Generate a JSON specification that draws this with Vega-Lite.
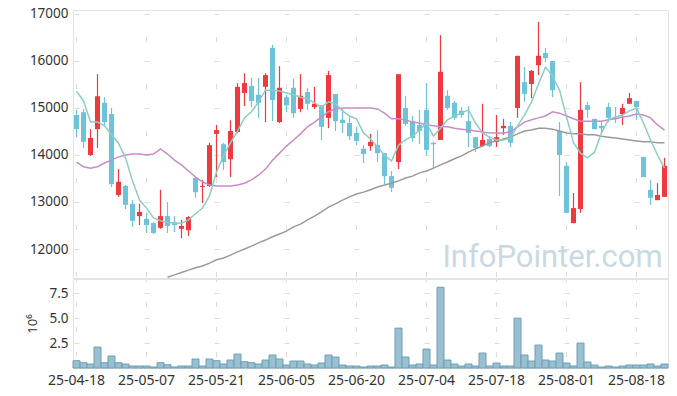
{
 "$schema": "https://vega.github.io/schema/vega-lite/v6.json",
 "background": "white",
 "padding": {"left": 25, "top": 6, "right": 9, "bottom": 10},
 "spacing": -4,
 "config": {
  "view": {"stroke": "#e3e3e3"},
  "font": "Noto Sans",
  "axis": {"labelFont": "Noto Sans", "labelFontSize": 13.5, "labelColor": "#333333", "ticks": false, "tickSize": 0, "domain": false, "labelPadding": 5, "titleFont": "Noto Sans"}
 },
 "datasets": {
  "k": [
{"d":"25-04-18","o":14850,"h":14960,"l":14380,"c":14550,"v":0.73,"m5":15360,"m20":13850},
{"d":"25-04-21","o":14910,"h":14980,"l":14150,"c":14280,"v":0.53,"m5":15150,"m20":13750},
{"d":"25-04-22","o":14000,"h":14550,"l":13980,"c":14360,"v":0.4,"m5":14700,"m20":13720},
{"d":"25-04-23","o":14550,"h":15720,"l":14150,"c":15250,"v":2.1,"m5":14700,"m20":13750},
{"d":"25-04-24","o":15110,"h":15230,"l":14640,"c":14700,"v":0.53,"m5":14620,"m20":13830},
{"d":"25-04-25","o":14870,"h":15000,"l":13320,"c":13380,"v":1.2,"m5":14430,"m20":13890},
{"d":"25-04-28","o":13150,"h":13700,"l":13110,"c":13430,"v":0.53,"m5":14250,"m20":13960},
{"d":"25-04-29","o":13340,"h":13360,"l":12850,"c":12940,"v":0.4,"m5":13940,"m20":14000},
{"d":"25-04-30","o":12960,"h":13040,"l":12470,"c":12600,"v":0.2,"m5":13450,"m20":14020},
{"d":"25-05-02","o":12700,"h":12960,"l":12510,"c":12790,"v":0.2,"m5":13040,"m20":14020},
{"d":"25-05-07","o":12640,"h":12770,"l":12340,"c":12510,"v":0.2,"m5":12870,"m20":14000},
{"d":"25-05-08","o":12550,"h":12570,"l":12320,"c":12340,"v":0.1,"m5":12660,"m20":14020},
{"d":"25-05-09","o":12450,"h":13260,"l":12430,"c":12700,"v":0.53,"m5":12600,"m20":14130},
{"d":"25-05-12","o":12700,"h":13000,"l":12340,"c":12490,"v":0.33,"m5":12570,"m20":14020,"m60":11400},
{"d":"25-05-13","o":12570,"h":12700,"l":12360,"c":12510,"v":0.1,"m5":12550,"m20":13890,"m60":11450},
{"d":"25-05-14","o":12430,"h":12620,"l":12230,"c":12490,"v":0.2,"m5":12550,"m20":13790,"m60":11500},
{"d":"25-05-15","o":12400,"h":12700,"l":12280,"c":12680,"v":0.2,"m5":12620,"m20":13660,"m60":11550},
{"d":"25-05-16","o":13510,"h":13530,"l":13090,"c":13210,"v":0.9,"m5":12750,"m20":13530,"m60":11600},
{"d":"25-05-19","o":13320,"h":13470,"l":12980,"c":13340,"v":0.2,"m5":12870,"m20":13430,"m60":11640},
{"d":"25-05-20","o":13340,"h":14260,"l":13320,"c":14210,"v":0.9,"m5":13130,"m20":13360,"m60":11700},
{"d":"25-05-21","o":14450,"h":14640,"l":13530,"c":14530,"v":0.73,"m5":13640,"m20":13340,"m60":11770},
{"d":"25-05-22","o":14230,"h":14260,"l":13680,"c":13850,"v":0.4,"m5":13980,"m20":13340,"m60":11810},
{"d":"25-05-23","o":13910,"h":14740,"l":13530,"c":14510,"v":0.8,"m5":14260,"m20":13340,"m60":11870},
{"d":"25-05-26","o":14490,"h":15530,"l":14470,"c":15450,"v":1.4,"m5":14510,"m20":13360,"m60":11940},
{"d":"25-05-27","o":15320,"h":15740,"l":15040,"c":15530,"v":0.63,"m5":14790,"m20":13400,"m60":12000},
{"d":"25-05-28","o":15470,"h":15640,"l":15020,"c":15150,"v":0.53,"m5":14920,"m20":13470,"m60":12060},
{"d":"25-05-29","o":15280,"h":15640,"l":14790,"c":15110,"v":0.4,"m5":15130,"m20":13570,"m60":12130},
{"d":"25-05-30","o":15450,"h":15740,"l":14700,"c":15700,"v":0.8,"m5":15380,"m20":13700,"m60":12190},
{"d":"25-06-02","o":16280,"h":16340,"l":14720,"c":15170,"v":1.3,"m5":15380,"m20":13890,"m60":12260},
{"d":"25-06-04","o":14700,"h":15890,"l":14680,"c":15430,"v":0.9,"m5":15360,"m20":14040,"m60":12320},
{"d":"25-06-05","o":15230,"h":15280,"l":14910,"c":15060,"v":0.3,"m5":15320,"m20":14190,"m60":12380},
{"d":"25-06-09","o":15430,"h":15620,"l":14790,"c":14890,"v":0.7,"m5":15280,"m20":14320,"m60":12470},
{"d":"25-06-10","o":14980,"h":15720,"l":14910,"c":15260,"v":0.7,"m5":15230,"m20":14450,"m60":12530},
{"d":"25-06-11","o":15340,"h":15430,"l":14960,"c":15090,"v":0.4,"m5":15190,"m20":14600,"m60":12620},
{"d":"25-06-12","o":15020,"h":15450,"l":14980,"c":15090,"v":0.3,"m5":15110,"m20":14700,"m60":12700},
{"d":"25-06-13","o":15060,"h":15060,"l":14320,"c":14600,"v":0.5,"m5":15020,"m20":14810,"m60":12790},
{"d":"25-06-16","o":14790,"h":15790,"l":14570,"c":15700,"v":1.3,"m5":15130,"m20":14920,"m60":12890},
{"d":"25-06-17","o":15300,"h":15300,"l":14510,"c":14720,"v":1.1,"m5":15090,"m20":14980,"m60":12960},
{"d":"25-06-18","o":14750,"h":14980,"l":14470,"c":14680,"v":0.3,"m5":14940,"m20":15000,"m60":13040},
{"d":"25-06-19","o":14680,"h":14810,"l":14320,"c":14400,"v":0.2,"m5":14830,"m20":15000,"m60":13110},
{"d":"25-06-20","o":14470,"h":14600,"l":14210,"c":14300,"v":0.2,"m5":14770,"m20":15000,"m60":13170},
{"d":"25-06-23","o":14130,"h":14210,"l":13830,"c":14020,"v":0.1,"m5":14470,"m20":15000,"m60":13210},
{"d":"25-06-24","o":14190,"h":14450,"l":14090,"c":14280,"v":0.2,"m5":14340,"m20":15000,"m60":13260},
{"d":"25-06-25","o":14210,"h":14530,"l":13850,"c":14040,"v":0.2,"m5":14170,"m20":14980,"m60":13320},
{"d":"25-06-26","o":14040,"h":14040,"l":13380,"c":13550,"v":0.3,"m5":14000,"m20":14890,"m60":13360},
{"d":"25-06-27","o":13550,"h":13660,"l":13210,"c":13300,"v":0.1,"m5":13870,"m20":14770,"m60":13400},
{"d":"25-06-30","o":13850,"h":15720,"l":13700,"c":15720,"v":4.0,"m5":14210,"m20":14770,"m60":13450},
{"d":"25-07-01","o":15000,"h":15260,"l":14620,"c":14660,"v":1.1,"m5":14320,"m20":14750,"m60":13510},
{"d":"25-07-02","o":14720,"h":14830,"l":14280,"c":14360,"v":0.3,"m5":14400,"m20":14700,"m60":13550},
{"d":"25-07-03","o":14640,"h":14960,"l":14230,"c":14510,"v":0.4,"m5":14530,"m20":14680,"m60":13620},
{"d":"25-07-04","o":14960,"h":15530,"l":14000,"c":14110,"v":1.9,"m5":14680,"m20":14640,"m60":13660},
{"d":"25-07-07","o":14260,"h":14280,"l":13720,"c":14230,"v":0.3,"m5":14400,"m20":14620,"m60":13720},
{"d":"25-07-08","o":14320,"h":16550,"l":14320,"c":15770,"v":8.1,"m5":14570,"m20":14600,"m60":13790},
{"d":"25-07-09","o":15260,"h":15380,"l":14960,"c":15000,"v":0.8,"m5":14750,"m20":14600,"m60":13850},
{"d":"25-07-10","o":15110,"h":15150,"l":14750,"c":14790,"v":0.4,"m5":14830,"m20":14570,"m60":13920},
{"d":"25-07-11","o":14940,"h":15020,"l":14790,"c":14850,"v":0.2,"m5":14890,"m20":14550,"m60":13980},
{"d":"25-07-14","o":14720,"h":15040,"l":14170,"c":14470,"v":0.4,"m5":14960,"m20":14530,"m60":14060},
{"d":"25-07-15","o":14380,"h":14380,"l":14060,"c":14150,"v":0.2,"m5":14680,"m20":14510,"m60":14130},
{"d":"25-07-16","o":14190,"h":15090,"l":14170,"c":14320,"v":1.5,"m5":14470,"m20":14490,"m60":14190},
{"d":"25-07-17","o":14340,"h":14400,"l":14170,"c":14190,"v":0.2,"m5":14380,"m20":14470,"m60":14260},
{"d":"25-07-18","o":14280,"h":14850,"l":14170,"c":14380,"v":0.5,"m5":14320,"m20":14470,"m60":14300},
{"d":"25-07-21","o":14570,"h":14770,"l":14430,"c":14620,"v":0.2,"m5":14320,"m20":14470,"m60":14340},
{"d":"25-07-22","o":14620,"h":14700,"l":14170,"c":14260,"v":0.2,"m5":14360,"m20":14490,"m60":14380},
{"d":"25-07-23","o":15000,"h":16110,"l":14790,"c":16110,"v":5.0,"m5":14620,"m20":14600,"m60":14450},
{"d":"25-07-24","o":15550,"h":15870,"l":15130,"c":15300,"v":1.3,"m5":14850,"m20":14700,"m60":14510},
{"d":"25-07-25","o":15510,"h":15810,"l":15210,"c":15790,"v":0.7,"m5":15130,"m20":14750,"m60":14530},
{"d":"25-07-28","o":15910,"h":16830,"l":15700,"c":16110,"v":2.3,"m5":15510,"m20":14790,"m60":14570},
{"d":"25-07-29","o":16170,"h":16280,"l":15980,"c":16060,"v":0.8,"m5":15870,"m20":14830,"m60":14570},
{"d":"25-07-30","o":16000,"h":16000,"l":15230,"c":15380,"v":0.7,"m5":15680,"m20":14920,"m60":14550},
{"d":"25-07-31","o":14510,"h":14700,"l":13130,"c":14000,"v":1.5,"m5":15380,"m20":14890,"m60":14510},
{"d":"25-08-01","o":13770,"h":13850,"l":12770,"c":12770,"v":0.5,"m5":14810,"m20":14830,"m60":14470},
{"d":"25-08-04","o":12550,"h":13190,"l":12550,"c":12870,"v":0.2,"m5":14260,"m20":14770,"m60":14450},
{"d":"25-08-05","o":12850,"h":15550,"l":12770,"c":14960,"v":2.5,"m5":14040,"m20":14720,"m60":14450},
{"d":"25-08-06","o":15060,"h":15130,"l":14790,"c":14960,"v":0.6,"m5":13940,"m20":14720,"m60":14430},
{"d":"25-08-07","o":14770,"h":14770,"l":14550,"c":14550,"v":0.3,"m5":14060,"m20":14720,"m60":14430},
{"d":"25-08-08","o":14620,"h":14700,"l":14470,"c":14570,"v":0.1,"m5":14470,"m20":14720,"m60":14400},
{"d":"25-08-11","o":15020,"h":15110,"l":14700,"c":14790,"v":0.2,"m5":14750,"m20":14750,"m60":14380},
{"d":"25-08-12","o":14790,"h":15020,"l":14680,"c":14770,"v":0.1,"m5":14810,"m20":14770,"m60":14360},
{"d":"25-08-13","o":14870,"h":15090,"l":14640,"c":15000,"v":0.2,"m5":14850,"m20":14810,"m60":14340},
{"d":"25-08-14","o":15090,"h":15320,"l":15090,"c":15210,"v":0.3,"m5":14940,"m20":14830,"m60":14320},
{"d":"25-08-18","o":15150,"h":15150,"l":14750,"c":15020,"v":0.3,"m5":15000,"m20":14870,"m60":14300},
{"d":"25-08-19","o":13960,"h":13960,"l":13530,"c":13530,"v":0.3,"m5":14680,"m20":14850,"m60":14280},
{"d":"25-08-20","o":13260,"h":13470,"l":12940,"c":13090,"v":0.4,"m5":14320,"m20":14790,"m60":14280},
{"d":"25-08-21","o":13040,"h":13400,"l":13040,"c":13150,"v":0.2,"m5":14000,"m20":14640,"m60":14260},
{"d":"25-08-22","o":13110,"h":13940,"l":13110,"c":13770,"v":0.4,"m5":13720,"m20":14530,"m60":14260}
  ]
 },
 "vconcat": [
  {
   "width": 595,
   "height": 268,
   "encoding": {
    "x": {"field": "d", "type": "ordinal", "scale": {"paddingInner": 0, "paddingOuter": 0},
          "axis": {"labels": false, "title": null, "grid": true, "bandPosition": 0.5,
                   "labelPadding": 0, "minExtent": 0, "maxExtent": 0,
                   "values": ["25-04-18","25-05-07","25-05-21","25-06-05","25-06-20","25-07-04","25-07-18","25-08-01","25-08-18"],
                   "gridColor": "#dcdcdc", "gridDash": [5, 42], "gridDashOffset": 20.5}}
   },
   "layer": [
    {
     "data": {"values": [{"d": "25-07-30", "p": 11617, "t": "InfoPointer.com"}]},
     "mark": {"type": "text", "font": "Roboto", "fontSize": 31, "color": "#c9d9e3", "align": "center", "baseline": "alphabetic"},
     "encoding": {"y": {"field": "p", "type": "quantitative"}, "text": {"field": "t"}}
    },
    {
     "data": {"name": "k"},
     "mark": {"type": "rule", "strokeWidth": 1.2},
     "encoding": {
      "y": {"field": "l", "type": "quantitative",
            "scale": {"domain": [11383, 17085], "nice": false, "zero": false},
            "axis": {"title": null, "values": [12000, 13000, 14000, 15000, 16000, 17000], "format": "d",
                     "grid": true, "gridColor": "#dcdcdc", "gridDash": [5, 65], "gridDashOffset": 69}},
      "y2": {"field": "h"},
      "color": {"condition": {"test": "datum.c >= datum.o", "value": "#ef3a3d"}, "value": "#6cc3da"}
     }
    },
    {
     "data": {"name": "k"},
     "mark": {"type": "bar", "width": {"band": 0.72}},
     "encoding": {
      "y": {"field": "o", "type": "quantitative"},
      "y2": {"field": "c"},
      "color": {"condition": {"test": "datum.c >= datum.o", "value": "#ef3a3d"}, "value": "#6cc3da"}
     }
    },
    {
     "data": {"name": "k"},
     "mark": {"type": "line", "color": "#9a9a9a", "strokeWidth": 1.5, "clip": true},
     "encoding": {"y": {"field": "m60", "type": "quantitative"}}
    },
    {
     "data": {"name": "k"},
     "mark": {"type": "line", "color": "#c88dc6", "strokeWidth": 1.5, "clip": true},
     "encoding": {"y": {"field": "m20", "type": "quantitative"}}
    },
    {
     "data": {"name": "k"},
     "mark": {"type": "line", "color": "#8dcdc4", "strokeWidth": 1.5, "clip": true},
     "encoding": {"y": {"field": "m5", "type": "quantitative"}}
    }
   ]
  },
  {
   "width": 595,
   "height": 89,
   "data": {"name": "k"},
   "mark": {"type": "bar", "fill": "#99bfd0", "stroke": "#6d9fb6", "strokeWidth": 1},
   "encoding": {
    "x": {"field": "d", "type": "ordinal", "scale": {"paddingInner": 0, "paddingOuter": 0},
          "axis": {"title": null, "labelAngle": 0, "labelFontSize": 14, "bandPosition": 0.5,
                   "values": ["25-04-18","25-05-07","25-05-21","25-06-05","25-06-20","25-07-04","25-07-18","25-08-01","25-08-18"],
                   "grid": true, "gridColor": "#dcdcdc", "gridDash": [5, 20], "gridDashOffset": 2.5}},
    "y": {"field": "v", "type": "quantitative",
          "scale": {"domain": [0, 8.93], "nice": false},
          "axis": {"values": [2.5, 5, 7.5], "format": ".1f", "title": "10⁶", "titleFontWeight": "normal",
                   "titleFontSize": 13, "titleColor": "#333333", "titleX": -41, "titleY": 44.5,
                   "titleBaseline": "middle", "titleAngle": -90,
                   "grid": true, "gridColor": "#dcdcdc", "gridDash": [5, 65], "gridDashOffset": 69}}
   }
  }
 ]
}
